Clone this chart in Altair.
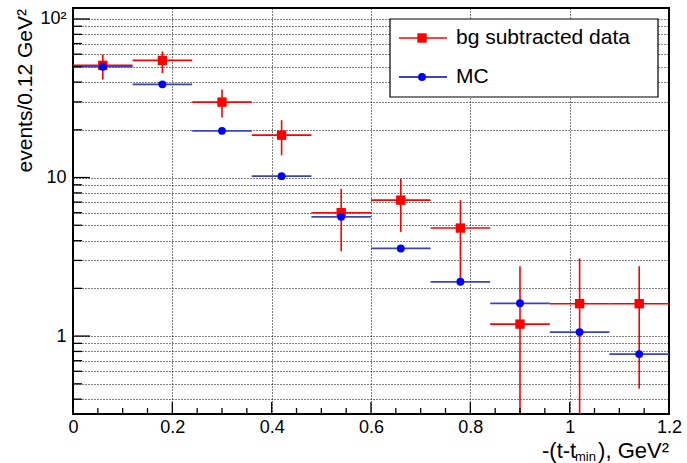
import altair as alt
import pandas as pd

# ---- data ----
bin_centers = [0.06, 0.18, 0.30, 0.42, 0.54, 0.66, 0.78, 0.90, 1.02, 1.14]
bin_half = 0.06
data_vals = [51.0, 54.8, 29.9, 18.5, 6.0, 7.2, 4.8, 1.19, 1.6, 1.6]
data_hi = [59.6, 62.5, 35.9, 23.0, 8.5, 9.8, 7.2, 2.76, 3.09, 2.76]
data_lo = [41.5, 45.6, 23.9, 13.8, 3.43, 4.54, 2.2, 0.1, 0.1, 0.466]
mc_vals = [50.0, 38.7, 19.7, 10.2, 5.65, 3.57, 2.2, 1.61, 1.06, 0.77]

x_major = [0.0, 0.2, 0.4, 0.6, 0.8, 1.0, 1.2]
x_minor = [0.05, 0.1, 0.15, 0.25, 0.3, 0.35, 0.45, 0.5, 0.55, 0.65, 0.7, 0.75,
           0.85, 0.9, 0.95, 1.05, 1.1, 1.15]
y_major = [1, 10, 100]
y_minor = [0.4, 0.5, 0.6, 0.7, 0.8, 0.9, 2, 3, 4, 5, 6, 7, 8, 9,
           20, 30, 40, 50, 60, 70, 80, 90]

legend_labels = ["bg subtracted data", "MC"]
y_title = "events/0.12 GeV²"
x_title_parts = ["-(t-t", "min", "), GeV²"]

FONT = "Liberation Sans"
W, H = 596, 406

df = pd.DataFrame({
    "x": bin_centers,
    "x0": [c - bin_half for c in bin_centers],
    "x1": [c + bin_half for c in bin_centers],
    "val": data_vals,
    "hi": data_hi,
    "lo": data_lo,
    "mc": mc_vals,
})

xs = alt.Scale(domain=[0, 1.2], nice=False, zero=False)
ys = alt.Scale(type="log", domain=[0.3225, 117.3], nice=False)

XAX = alt.Axis(
    values=x_major, format="~g", grid=True, ticks=False, domain=False,
    title=None, labelFont=FONT, labelFontSize=18, labelColor="black",
    labelPadding=4, gridDash=[1, 2], gridColor="black", gridOpacity=1,
    labelFlush=False)
YAX = alt.Axis(
    values=y_minor + y_major, grid=True, ticks=False, domain=False,
    title=None, labelFont=FONT, labelFontSize=18, labelColor="black",
    labelPadding=7, gridDash=[1, 2], gridColor="black", gridOpacity=1,
    labelExpr="datum.value == 1 ? '1' : datum.value == 10 ? '10' : datum.value == 100 ? '10²' : ''")

RED = "#ff0000"
BLUE = "#3c44bc"
SQ = 88
CI = 62

red_h = alt.Chart(df).mark_rule(color=RED, strokeWidth=1.6).encode(
    x=alt.X("x0:Q", scale=xs, axis=XAX), x2="x1:Q",
    y=alt.Y("val:Q", scale=ys, axis=YAX),
)
red_v = alt.Chart(df).mark_rule(color=RED, strokeWidth=1.6, clip=True).encode(
    x=alt.X("x:Q", scale=xs, axis=XAX),
    y=alt.Y("lo:Q", scale=ys, axis=YAX), y2="hi:Q",
)
red_pt = alt.Chart(df).mark_point(shape="square", filled=True, size=SQ,
                                  color=RED, opacity=1).encode(
    x=alt.X("x:Q", scale=xs, axis=XAX),
    y=alt.Y("val:Q", scale=ys, axis=YAX),
)
blue_h = alt.Chart(df).mark_rule(color=BLUE, strokeWidth=1.8).encode(
    x=alt.X("x0:Q", scale=xs, axis=XAX), x2="x1:Q",
    y=alt.Y("mc:Q", scale=ys, axis=YAX),
)
blue_pt = alt.Chart(df).mark_point(shape="circle", filled=True, size=CI,
                                   color="#0000ff", opacity=1).encode(
    x=alt.X("x:Q", scale=xs, axis=XAX),
    y=alt.Y("mc:Q", scale=ys, axis=YAX),
)

# inward ticks (ROOT style)
xmaj = alt.Chart(pd.DataFrame({"v": x_major})).mark_rule(color="black", strokeWidth=1.3).encode(
    x=alt.X("v:Q", scale=xs, axis=XAX), y=alt.value(H), y2=alt.value(H - 12))
xmin = alt.Chart(pd.DataFrame({"v": x_minor})).mark_rule(color="black", strokeWidth=1.3).encode(
    x=alt.X("v:Q", scale=xs, axis=XAX), y=alt.value(H), y2=alt.value(H - 6))
ymaj = alt.Chart(pd.DataFrame({"v": y_major})).mark_rule(color="black", strokeWidth=1.3).encode(
    y=alt.Y("v:Q", scale=ys, axis=YAX), x=alt.value(0), x2=alt.value(17))
ymin = alt.Chart(pd.DataFrame({"v": y_minor})).mark_rule(color="black", strokeWidth=1.3).encode(
    y=alt.Y("v:Q", scale=ys, axis=YAX), x=alt.value(0), x2=alt.value(9))

one = pd.DataFrame({"a": [0]})

# legend
leg_box = alt.Chart(one).mark_rect(fill="white", stroke="black", strokeWidth=1.2).encode(
    x=alt.value(317), x2=alt.value(585), y=alt.value(11), y2=alt.value(89))
leg_r_line = alt.Chart(one).mark_rule(color=RED, strokeWidth=1.6).encode(
    x=alt.value(326), x2=alt.value(374), y=alt.value(30))
leg_r_pt = alt.Chart(one).mark_point(shape="square", filled=True, size=SQ, color=RED, opacity=1).encode(
    x=alt.value(349), y=alt.value(30))
leg_b_line = alt.Chart(one).mark_rule(color=BLUE, strokeWidth=1.8).encode(
    x=alt.value(326), x2=alt.value(374), y=alt.value(69))
leg_b_pt = alt.Chart(one).mark_point(shape="circle", filled=True, size=CI, color="#0000ff", opacity=1).encode(
    x=alt.value(349), y=alt.value(69))
leg_t1 = alt.Chart(one).mark_text(text=legend_labels[0], font=FONT, fontSize=21,
                                  align="left", baseline="middle", color="black").encode(
    x=alt.value(383), y=alt.value(30))
leg_t2 = alt.Chart(one).mark_text(text=legend_labels[1], font=FONT, fontSize=21,
                                  align="left", baseline="middle", color="black").encode(
    x=alt.value(383), y=alt.value(69))

# axis titles
ytitle = alt.Chart(one).mark_text(text=y_title, font=FONT, fontSize=21, angle=270,
                                  align="right", baseline="middle", color="black").encode(
    x=alt.value(-47), y=alt.value(1))
xt1 = alt.Chart(one).mark_text(text=x_title_parts[0], font=FONT, fontSize=22,
                               align="left", baseline="alphabetic", color="black").encode(
    x=alt.value(469), y=alt.value(450))
xt2 = alt.Chart(one).mark_text(text=x_title_parts[1], font=FONT, fontSize=13,
                               align="left", baseline="alphabetic", color="black").encode(
    x=alt.value(502), y=alt.value(453))
xt3 = alt.Chart(one).mark_text(text=x_title_parts[2], font=FONT, fontSize=22,
                               align="right", baseline="alphabetic", color="black").encode(
    x=alt.value(596), y=alt.value(450))

chart = alt.layer(
    red_h, red_v, red_pt, blue_h, blue_pt,
    xmaj, xmin, ymaj, ymin,
    leg_box, leg_r_line, leg_r_pt, leg_b_line, leg_b_pt, leg_t1, leg_t2,
    ytitle, xt1, xt2, xt3,
).properties(
    width=W, height=H,
    autosize=alt.AutoSizeParams(type="none"),
    padding={"left": 73, "top": 8, "right": 18, "bottom": 49},
    background="white",
).configure_view(stroke="black", strokeWidth=2)

chart.save("out.html", embed_options={"renderer": "svg", "actions": False})
